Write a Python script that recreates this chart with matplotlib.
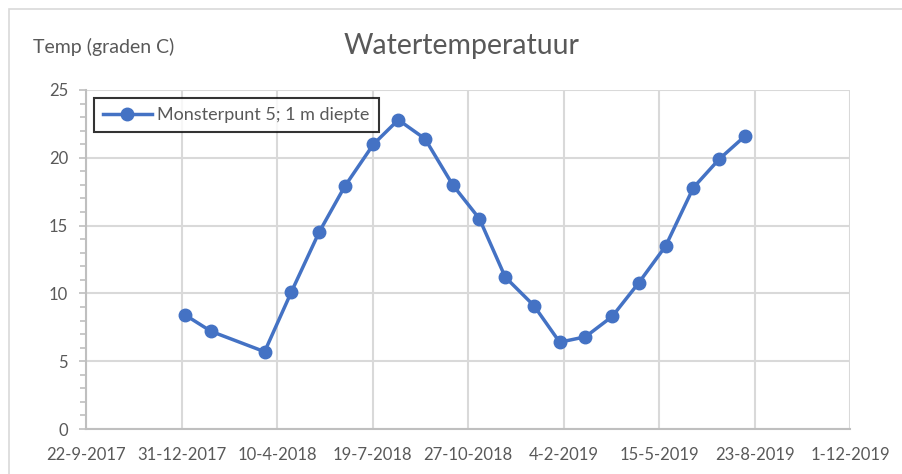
import matplotlib
matplotlib.use("Agg")
import matplotlib.pyplot as plt
import matplotlib.dates as mdates
from matplotlib.patches import Rectangle
from matplotlib.ticker import MultipleLocator, FixedLocator
import pandas as pd

plt.rcParams['font.family'] = ['Lato', 'DejaVu Sans']

dates = ["2018-01-04", "2018-01-31", "2018-03-28", "2018-04-25", "2018-05-24",
         "2018-06-20", "2018-07-20", "2018-08-15", "2018-09-12", "2018-10-11",
         "2018-11-08", "2018-12-05", "2019-01-04", "2019-01-31", "2019-02-27",
         "2019-03-27", "2019-04-24", "2019-05-22", "2019-06-20", "2019-07-17",
         "2019-08-13"]
temps = [8.4, 7.2, 5.7, 10.1, 14.5, 17.9, 21.0, 22.8, 21.4, 18.0, 15.5,
         11.2, 9.1, 6.4, 6.8, 8.3, 10.8, 13.5, 17.8, 19.9, 21.6]
series_name = "Monsterpunt 5; 1 m diepte"

x_start = pd.Timestamp("2017-09-22")
x_end = pd.Timestamp("2019-12-01")
x_ticks = pd.date_range(x_start, x_end, freq="100D")

gray_text = "#595959"
blue = "#4472c4"

fig = plt.figure(figsize=(9.03, 4.74), dpi=100)
ax = fig.add_axes([86 / 903, 1 - 429 / 474, (850 - 86) / 903, (429 - 90) / 474])

# chart area border
fig.patches.append(Rectangle((9 / 903, -0.1), 1.2, 1 - 9 / 474 + 0.1,
                             transform=fig.transFigure, fill=False,
                             edgecolor="#d9d9d9", linewidth=1.2))

d = pd.to_datetime(dates)
ax.plot(d, temps, color=blue, linewidth=2.5, marker="o", markersize=9,
        label=series_name, zorder=3)

ax.set_xlim(mdates.date2num(x_start), mdates.date2num(x_end))
ax.set_ylim(0, 25)
ax.xaxis.set_major_locator(FixedLocator(mdates.date2num(x_ticks)))
ax.set_xticklabels([f"{t.day}-{t.month}-{t.year}" for t in x_ticks])
ax.yaxis.set_major_locator(MultipleLocator(5))
ax.yaxis.set_minor_locator(MultipleLocator(1))

ax.grid(True, which="major", color="#d9d9d9", linewidth=1.5)
ax.set_axisbelow(True)
for s in ["top", "right"]:
    ax.spines[s].set_visible(False)
for s in ["left", "bottom"]:
    ax.spines[s].set_color("#bfbfbf")
    ax.spines[s].set_linewidth(1.5)

ax.tick_params(axis="x", length=0, pad=13, labelsize=12, labelcolor=gray_text)
ax.tick_params(axis="y", which="major", length=5, width=1.2, color="#bfbfbf",
               pad=8, labelsize=12, labelcolor=gray_text)
ax.tick_params(axis="y", which="minor", length=4, width=1.2, color="#bfbfbf")

fig.text(462 / 903, 1 - 46 / 474, "Watertemperatuur", ha="center", va="center",
         fontsize=20.5, color=gray_text)
fig.text(33 / 903, 1 - 47 / 474, "Temp (graden C)", ha="left", va="center",
         fontsize=14, color=gray_text)

leg = ax.legend(loc="upper left", bbox_to_anchor=(8 / 764, 1 - 8 / 339),
                frameon=True, fancybox=False, fontsize=13, handlelength=2.7,
                borderpad=0.5, handletextpad=0.3, borderaxespad=0)
leg.get_frame().set_edgecolor("black")
leg.get_frame().set_linewidth(1.5)
for t in leg.get_texts():
    t.set_color(gray_text)

fig.savefig("out.png", dpi=100)
